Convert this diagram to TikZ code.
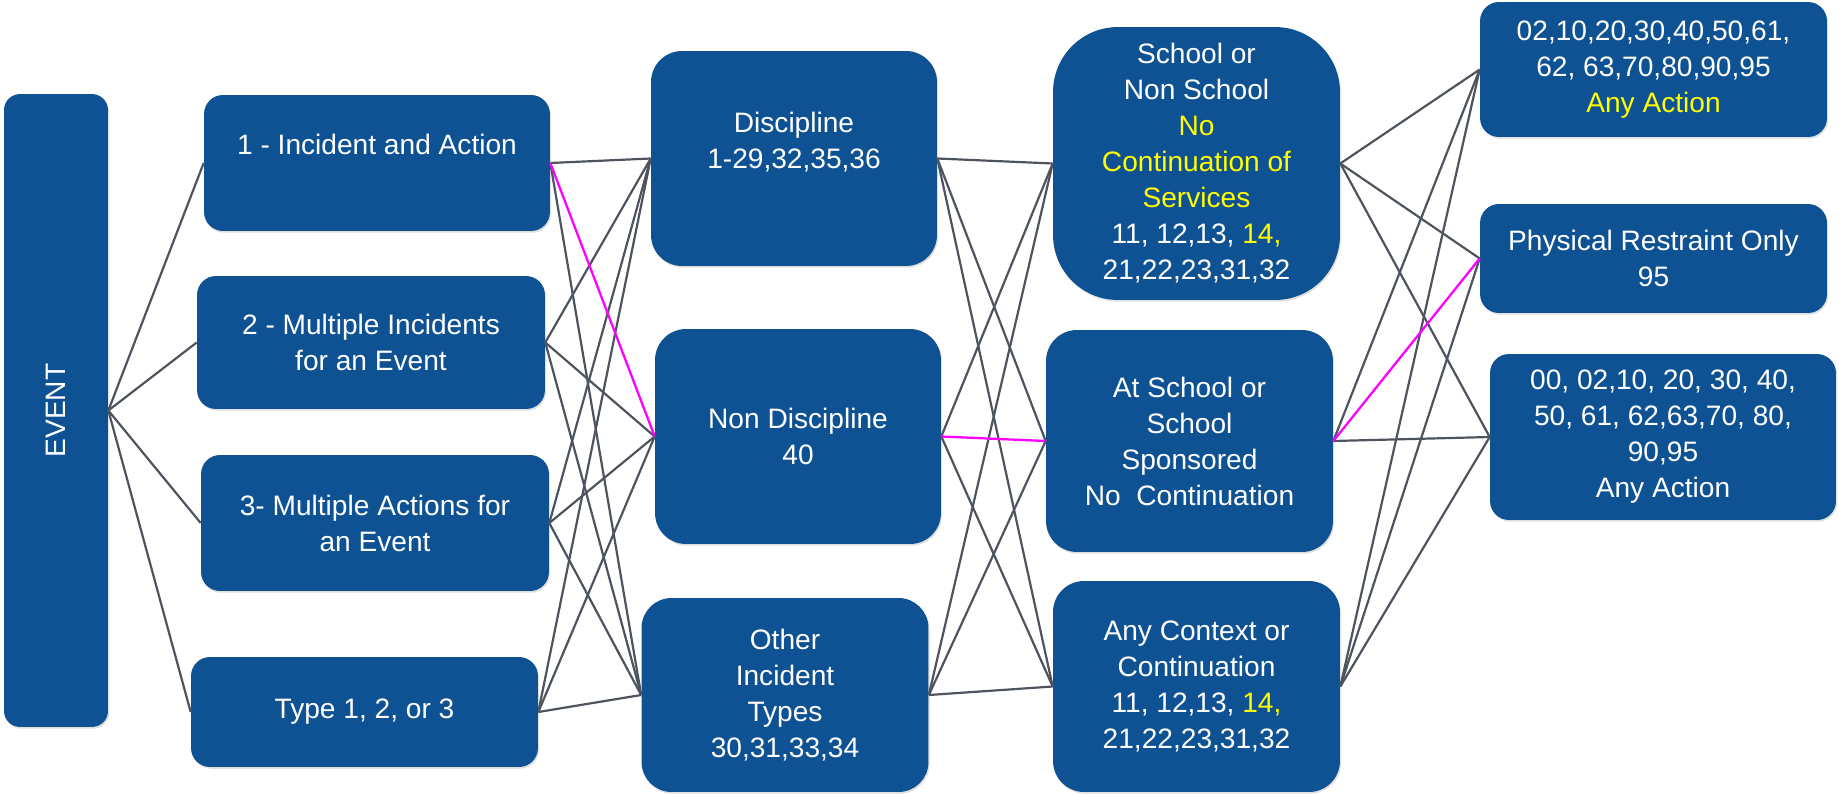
\documentclass[tikz,border=0pt]{standalone}
\usepackage{fontspec}
\setmainfont{Liberation Sans}
\usetikzlibrary{shadows}
\definecolor{boxblue}{RGB}{14,82,147}
\definecolor{linegrey}{RGB}{78,84,94}
\definecolor{hiyellow}{RGB}{255,255,0}
\definecolor{hipink}{RGB}{255,0,255}
\newcommand{\yel}[1]{\textcolor{hiyellow}{#1}}

\begin{document}
\begin{tikzpicture}[x=0.02cm, y=-0.02cm,
    main/.style = {fill=boxblue, text=white, align=center, inner sep=0pt, rounded corners=0.38cm,
        font=\fontsize{16}{20.5}\selectfont,
        drop shadow={shadow xshift=0.6pt, shadow yshift=-1pt, opacity=0.25}},
    link/.style = {draw=linegrey, line width=1.25pt},
    hot/.style = {draw=hipink, line width=1.3pt}]
    \useasboundingbox (0,0) rectangle (1839,794);
    % Disegna i nodi

    \node[main, minimum width=2.08cm, minimum height=12.66cm, rounded corners=0.32cm] (ev) at (56,410.5) {\rotatebox{90}{EVENT}};

    \node[main, minimum width=6.92cm, minimum height=2.72cm] (i1) at (377,163) {1 - Incident and Action\\[-5.6pt]\strut};
    \node[main, minimum width=6.96cm, minimum height=2.66cm] (i2) at (371,342.5) {2 - Multiple Incidents\\for an Event};
    \node[main, minimum width=6.96cm, minimum height=2.72cm] (i3) at (375,523) {3- Multiple Actions for\\an Event};
    \node[main, minimum width=6.94cm, minimum height=2.20cm] (i4) at (364.5,712) {Type 1, 2, or 3};

    \node[main, minimum width=5.72cm, minimum height=4.30cm, rounded corners=0.62cm] (d) at (794,158.5) {Discipline\\1-29,32,35,36\\[-5.4pt]\strut};
    \node[main, minimum width=5.72cm, minimum height=4.30cm, rounded corners=0.62cm] (nd) at (798,436.5) {Non Discipline\\40};
    \node[main, minimum width=5.74cm, minimum height=3.88cm, rounded corners=0.6cm] (o) at (785,695) {Other\\Incident\\Types\\30,31,33,34};

    \node[main, minimum width=5.74cm, minimum height=5.46cm, rounded corners=1.3cm] (sc) at (1196.5,163.5) {School or\\Non School\\\yel{No}\\\yel{Continuation of}\\\yel{Services}\\11, 12,13, \yel{14,}\\21,22,23,31,32};
    \node[main, minimum width=5.74cm, minimum height=4.44cm, rounded corners=0.62cm] (as) at (1189.5,441) {At School or\\School\\Sponsored\\No\ \ Continuation};
    \node[main, minimum width=5.74cm, minimum height=4.22cm, rounded corners=0.62cm] (ac) at (1196.5,686.5) {Any Context or\\Continuation\\11, 12,13, \yel{14,}\\21,22,23,31,32};

    \node[main, minimum width=6.94cm, minimum height=2.70cm] (a1) at (1653.5,69.5) {02,10,20,30,40,50,61,\\62, 63,70,80,90,95\\\yel{Any Action}};
    \node[main, minimum width=6.94cm, minimum height=2.18cm] (pr) at (1653.5,258.5) {Physical Restraint Only\\95};
    \node[main, minimum width=6.92cm, minimum height=3.32cm] (a2) at (1663,437) {00, 02,10, 20, 30, 40,\\50, 61, 62,63,70, 80,\\90,95\\Any Action};

    % Disegna gli archi
    \draw[link] (ev.east) -- (i1.west);
    \draw[link] (ev.east) -- (i2.west);
    \draw[link] (ev.east) -- (i3.west);
    \draw[link] (ev.east) -- (i4.west);

    \draw[link] (i1.east) -- (d.west);
    \draw[link] (i1.east) -- (o.west);
    \draw[link] (i2.east) -- (d.west);
    \draw[link] (i2.east) -- (nd.west);
    \draw[link] (i2.east) -- (o.west);
    \draw[link] (i3.east) -- (d.west);
    \draw[link] (i3.east) -- (nd.west);
    \draw[link] (i3.east) -- (o.west);
    \draw[link] (i4.east) -- (d.west);
    \draw[link] (i4.east) -- (nd.west);
    \draw[link] (i4.east) -- (o.west);

    \draw[link] (d.east) -- (sc.west);
    \draw[link] (d.east) -- (as.west);
    \draw[link] (d.east) -- (ac.west);
    \draw[link] (nd.east) -- (sc.west);
    \draw[link] (nd.east) -- (ac.west);
    \draw[link] (o.east) -- (sc.west);
    \draw[link] (o.east) -- (as.west);
    \draw[link] (o.east) -- (ac.west);

    \draw[link] (sc.east) -- (a1.west);
    \draw[link] (sc.east) -- (pr.west);
    \draw[link] (sc.east) -- (a2.west);
    \draw[link] (as.east) -- (a1.west);
    \draw[link] (as.east) -- (a2.west);
    \draw[link] (ac.east) -- (a1.west);
    \draw[link] (ac.east) -- (pr.west);
    \draw[link] (ac.east) -- (a2.west);

    % Archi evidenziati
    \draw[hot] (i1.east) -- (nd.west);
    \draw[hot] (nd.east) -- (as.west);
    \draw[hot] (as.east) -- (pr.west);

\end{tikzpicture}
\end{document}
